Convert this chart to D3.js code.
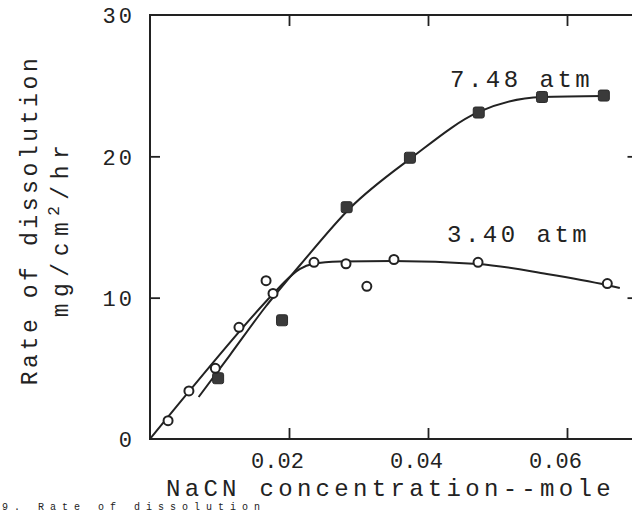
<!DOCTYPE html>
<html>
<head>
<meta charset="utf-8">
<script src="https://cdn.jsdelivr.net/npm/d3@7"></script>
<style>
  html, body { margin: 0; padding: 0; background: #fff; }
  svg { display: block; }
  text { font-family: "Liberation Mono", "DejaVu Sans Mono", monospace; fill: #222; }
</style>
</head>
<body>
<script>
// ---- data ----
// 3.40 atm (open circles)
const lowX = [0.0026, 0.0056, 0.0094, 0.0128, 0.0167, 0.0177, 0.0236, 0.0282, 0.0312, 0.0351, 0.0472, 0.0658];
const lowY = [1.3, 3.4, 5.0, 7.9, 11.2, 10.3, 12.5, 12.4, 10.8, 12.7, 12.5, 11.0];
// 7.48 atm (filled squares)
const highX = [0.0098, 0.0190, 0.0283, 0.0374, 0.0473, 0.0564, 0.0653];
const highY = [4.3, 8.4, 16.4, 19.9, 23.1, 24.2, 24.3];
// hand-drawn fitted curves
const lowFitX = [0, 0.0058, 0.0177, 0.0201, 0.0216, 0.0234, 0.0273, 0.0349, 0.0472, 0.0571, 0.0657, 0.0676];
const lowFitY = [0, 3.47, 10.26, 11.46, 12.03, 12.38, 12.56, 12.6, 12.39, 11.68, 10.9, 10.69];
const highFitX = [0.0070, 0.0115, 0.0166, 0.0216, 0.0288, 0.0376, 0.0473, 0.0564, 0.0653];
const highFitY = [2.97, 5.94, 9.34, 12.31, 16.35, 19.89, 23.14, 24.2, 24.27];
// ticks and labels
const xTicks = [0.02, 0.04, 0.06];
const xTickLabels = ["0.02", "0.04", "0.06"];
const yTicks = [0, 10, 20, 30];
const yTickLabels = ["0", "10", "20", "30"];
const seriesLabels = ["7.48 atm", "3.40 atm"];
const xTitle = "NaCN concentration--mole";
const yTitle1 = "Rate of dissolution";
const caption = "9.   Rate of dissolution";

const W = 632, H = 512;
const svg = d3.select("body").append("svg").attr("width", W).attr("height", H);

const x = d3.scaleLinear().domain([0, 0.07]).range([150, 636.5]);
const y = d3.scaleLinear().domain([0, 30]).range([439, 15]);

const ink = "#222";
const frame = svg.append("g");
frame.append("path")
  .attr("d", `M${x(0.07)},${y(30)} L${x(0)},${y(30)} L${x(0)},${y(0)} L${x(0.07)},${y(0)} L${x(0.07)},${y(30)}`)
  .attr("fill", "none").attr("stroke", ink).attr("stroke-width", 2);

// axes via d3 axis generators (inward ticks)
const axB = svg.append("g").attr("transform", `translate(0,${y(0)})`)
  .call(d3.axisBottom(x).tickValues(xTicks).tickSize(-11).tickFormat((d, i) => xTickLabels[i]));
const axT = svg.append("g").attr("transform", `translate(0,${y(30)})`)
  .call(d3.axisTop(x).tickValues(xTicks).tickSize(-11).tickFormat(""));
const axL = svg.append("g").attr("transform", `translate(${x(0)},0)`)
  .call(d3.axisLeft(y).tickValues(yTicks).tickSize(-10).tickFormat((d, i) => yTickLabels[i]));
const axR = svg.append("g").attr("transform", `translate(${x(0.07)},0)`)
  .call(d3.axisRight(y).tickValues([10, 20]).tickSize(-9).tickFormat(""));

[axB, axT, axL, axR].forEach(g => {
  g.select(".domain").remove();
  g.selectAll(".tick line").attr("stroke", ink).attr("stroke-width", 1.8);
});
axL.selectAll(".tick").filter(d => d === 0 || d === 30).select("line").remove();
axB.selectAll(".tick text")
  .attr("font-family", "Liberation Mono, monospace").attr("font-size", 22)
  .attr("fill", ink).attr("letter-spacing", 0)
  .attr("dx", -12).attr("dy", 0).attr("y", 29);
axL.selectAll(".tick text")
  .attr("font-family", "Liberation Mono, monospace").attr("font-size", 22)
  .attr("fill", ink).attr("letter-spacing", 3)
  .attr("x", -15).attr("dy", "0.35em");

// curves
const line = d3.line().x(d => x(d[0])).y(d => y(d[1])).curve(d3.curveMonotoneX);
svg.append("path").datum(lowFitX.map((v, i) => [v, lowFitY[i]]))
  .attr("d", line).attr("fill", "none").attr("stroke", ink).attr("stroke-width", 2);
svg.append("path").datum(highFitX.map((v, i) => [v, highFitY[i]]))
  .attr("d", line).attr("fill", "none").attr("stroke", ink).attr("stroke-width", 2);

// markers
svg.append("g").selectAll("rect").data(highX.map((v, i) => [v, highY[i]])).join("rect")
  .attr("x", d => x(d[0]) - 5.5).attr("y", d => y(d[1]) - 5.5)
  .attr("width", 11).attr("height", 11).attr("rx", 2)
  .attr("fill", "#3a3a3a").attr("stroke", "#2a2a2a").attr("stroke-width", 1);
svg.append("g").selectAll("circle").data(lowX.map((v, i) => [v, lowY[i]])).join("circle")
  .attr("cx", d => x(d[0])).attr("cy", d => y(d[1])).attr("r", 4.5)
  .attr("fill", "#fff").attr("stroke", ink).attr("stroke-width", 2);

// series labels
svg.append("text").attr("x", 450).attr("y", 87).attr("font-size", 24)
  .attr("letter-spacing", 3.5).text(seriesLabels[0]);
svg.append("text").attr("x", 447).attr("y", 242).attr("font-size", 24)
  .attr("letter-spacing", 3.5).text(seriesLabels[1]);

// axis titles
svg.append("text").attr("x", 166).attr("y", 496).attr("font-size", 24)
  .attr("letter-spacing", 4.3).text(xTitle);
svg.append("text").attr("transform", "translate(37,220) rotate(-90)")
  .attr("text-anchor", "middle").attr("font-size", 23).attr("letter-spacing", 3.6)
  .text(yTitle1);
const t2 = svg.append("text").attr("transform", "translate(68,228) rotate(-90)")
  .attr("text-anchor", "middle").attr("font-size", 23).attr("letter-spacing", 6.5);
t2.append("tspan").text("mg/cm");
t2.append("tspan").attr("dy", -9).attr("font-size", 16).text("2");
t2.append("tspan").attr("dy", 9).text("/hr");

// caption (at the very bottom edge of the picture)
svg.append("text").attr("x", 2).attr("y", 510).attr("font-size", 10)
  .attr("letter-spacing", 6).text(caption);
</script>
</body>
</html>
